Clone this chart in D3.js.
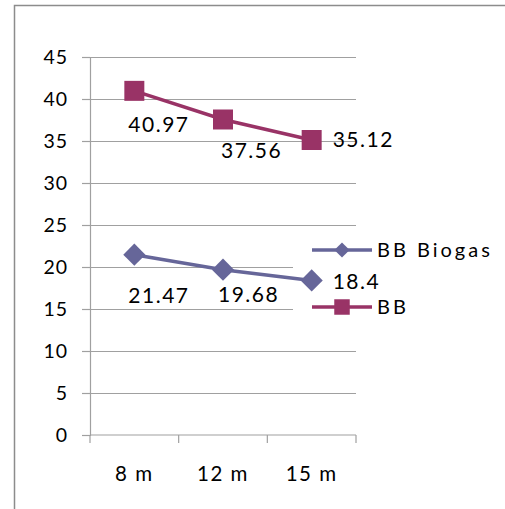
<!DOCTYPE html>
<html>
<head>
<meta charset="utf-8">
<script src="https://cdn.jsdelivr.net/npm/d3@7"></script>
<style>
  html, body { margin: 0; padding: 0; background: #fff; }
  svg { display: block; }
  text { font-family: Lato, "Open Sans", sans-serif; fill: #000; }
</style>
</head>
<body>
<svg id="chart" width="505" height="509"></svg>
<script>
// Chart data
const categories = ["8 m", "12 m", "15 m"];
const seriesNames = ["BB Biogas", "BB"];
const biogasValues = [21.47, 19.68, 18.4];
const bbValues = [40.97, 37.56, 35.12];
const yTicks = [0, 5, 10, 15, 20, 25, 30, 35, 40, 45];

const colors = { "BB Biogas": "#666699", "BB": "#993366" };
// Diamonds are squares turned by 45 degrees
const series = [
  { name: seriesNames[0], values: biogasValues, rotate: 45 },
  { name: seriesNames[1], values: bbValues, rotate: 0 }
];

// Placement of each data label relative to its point: [dx, dy, anchor]
const labelPlacement = {
  "BB Biogas": [[-6, 41, "start"], [-5, 25, "start"], [21, 1, "start"]],
  "BB": [[-6, 34, "start"], [-2, 31, "start"], [21, -1, "start"]]
};

const svg = d3.select("#chart");

// Outer chart border
svg.append("path")
  .attr("d", "M14.5,509 V5.5 H505")
  .attr("fill", "none")
  .attr("stroke", "#8c8c8c")
  .attr("stroke-width", 1.5);

const plot = { left: 90, right: 356, top: 57, bottom: 435 };

const x = d3.scaleBand().domain(categories).range([plot.left, plot.right]);
const y = d3.scaleLinear().domain([0, 45]).range([plot.bottom, plot.top]);

// Y axis: tick marks and labels
const yAxis = d3.axisLeft(y).tickValues(yTicks).tickSize(8).tickPadding(14);
const yG = svg.append("g").attr("transform", `translate(${plot.left},0)`).call(yAxis);
yG.select(".domain").attr("stroke", "#a0a0a0").attr("stroke-width", 1.2);
yG.selectAll(".tick line").attr("stroke", "#a0a0a0").attr("stroke-width", 1.2);
yG.selectAll(".tick text")
  .attr("font-size", 19.5)
  .attr("letter-spacing", 1)
  .attr("fill", "#000")
  .style("font-family", "Lato, sans-serif");

// Horizontal gridlines
svg.append("g").selectAll("line")
  .data(yTicks.filter(t => t > 0))
  .join("line")
  .attr("x1", plot.left).attr("x2", plot.right)
  .attr("y1", d => Math.round(y(d)) + 0.5).attr("y2", d => Math.round(y(d)) + 0.5)
  .attr("stroke", "#a0a0a0").attr("stroke-width", 1.2);

// X axis with ticks between categories
const xG = svg.append("g").attr("transform", `translate(0,${plot.bottom})`);
xG.append("line")
  .attr("x1", plot.left).attr("x2", plot.right)
  .attr("stroke", "#a0a0a0").attr("stroke-width", 1.2);
const boundaries = [plot.left].concat(categories.map(c => x(c) + x.bandwidth()));
xG.selectAll("line.tick")
  .data(boundaries)
  .join("line")
  .attr("class", "tick")
  .attr("x1", d => d).attr("x2", d => d)
  .attr("y1", 0).attr("y2", 8)
  .attr("stroke", "#a0a0a0").attr("stroke-width", 1.2);
xG.selectAll("text")
  .data(categories)
  .join("text")
  .attr("x", d => x(d) + x.bandwidth() / 2)
  .attr("y", 46)
  .attr("text-anchor", "middle")
  .attr("font-size", 20.5)
  .attr("letter-spacing", 1.5)
  .text(d => d);

// Legend box (white background hides the gridlines behind it)
const legend = svg.append("g");
legend.append("rect")
  .attr("x", 293).attr("y", 236).attr("width", 212).attr("height", 86)
  .attr("fill", "#fff");

// Lines and markers
const line = d3.line()
  .x((d, i) => x(categories[i]) + x.bandwidth() / 2)
  .y(d => y(d));

series.forEach(s => {
  const c = colors[s.name];
  svg.append("path")
    .datum(s.values)
    .attr("d", line)
    .attr("fill", "none")
    .attr("stroke", c)
    .attr("stroke-width", 3.5);

  const size = s.rotate ? 245 : 400;
  svg.append("g").selectAll("path")
    .data(s.values)
    .join("path")
    .attr("transform", (d, i) => `translate(${x(categories[i]) + x.bandwidth() / 2},${y(d)}) rotate(${s.rotate})`)
    .attr("d", d3.symbol().type(d3.symbolSquare).size(size))
    .attr("fill", c);

  // Data labels
  svg.append("g").selectAll("text")
    .data(s.values)
    .join("text")
    .attr("x", (d, i) => x(categories[i]) + x.bandwidth() / 2 + labelPlacement[s.name][i][0])
    .attr("y", (d, i) => y(d) + labelPlacement[s.name][i][1])
    .attr("dy", "0.36em")
    .attr("text-anchor", (d, i) => labelPlacement[s.name][i][2])
    .attr("font-size", 21)
    .attr("letter-spacing", 1.5)
    .text(d => d);
});

// Legend entries
const legendRows = [{ s: series[0], y: 250 }, { s: series[1], y: 307 }];
legendRows.forEach(r => {
  const c = colors[r.s.name];
  legend.append("line")
    .attr("x1", 312).attr("x2", 372)
    .attr("y1", r.y).attr("y2", r.y)
    .attr("stroke", c).attr("stroke-width", 3.5);
  const size = r.s.rotate ? 115 : 240;
  legend.append("path")
    .attr("transform", `translate(342,${r.y}) rotate(${r.s.rotate})`)
    .attr("d", d3.symbol().type(d3.symbolSquare).size(size))
    .attr("fill", c);
  legend.append("text")
    .attr("x", 377).attr("y", r.y)
    .attr("dy", "0.36em")
    .attr("font-size", 20)
    .attr("letter-spacing", 3)
    .text(r.s.name);
});
</script>
</body>
</html>
